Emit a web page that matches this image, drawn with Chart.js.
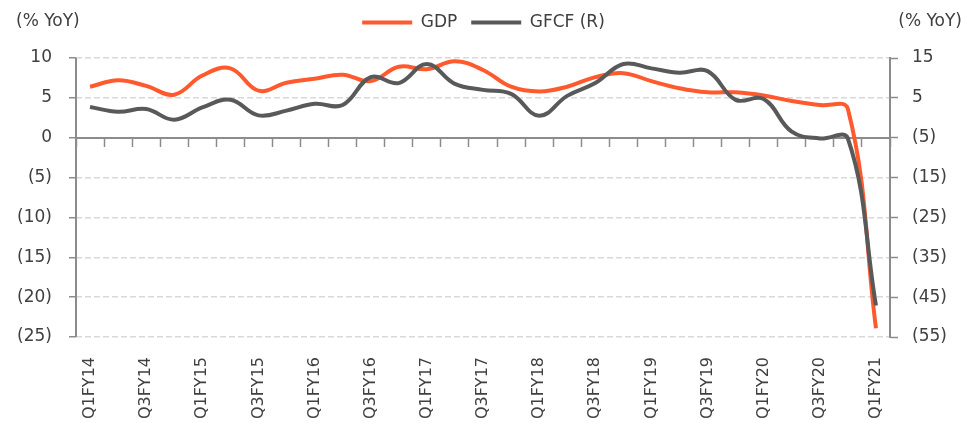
<!DOCTYPE html>
<html>
<head>
<meta charset="utf-8">
<script src="https://cdn.jsdelivr.net/npm/chart.js@4.4.0/dist/chart.umd.min.js"></script>
<style>
  html, body { margin: 0; padding: 0; background: #fff; }
  #wrap { width: 967px; height: 430px; position: relative; }
</style>
</head>
<body>
<div id="wrap"><canvas id="gdpChart"></canvas></div>
<script>
// values (% YoY)
const quarters = [
    'Q1FY14', 'Q2FY14', 'Q3FY14', 'Q4FY14',
    'Q1FY15', 'Q2FY15', 'Q3FY15', 'Q4FY15',
    'Q1FY16', 'Q2FY16', 'Q3FY16', 'Q4FY16',
    'Q1FY17', 'Q2FY17', 'Q3FY17', 'Q4FY17',
    'Q1FY18', 'Q2FY18', 'Q3FY18', 'Q4FY18',
    'Q1FY19', 'Q2FY19', 'Q3FY19', 'Q4FY19',
    'Q1FY20', 'Q2FY20', 'Q3FY20', 'Q4FY20',
    'Q1FY21'
];
const gdp = [
    6.4, 7.2, 6.5, 5.4,
    7.8, 8.7, 5.9, 6.9,
    7.4, 7.9, 7.1, 8.9,
    8.6, 9.6, 8.5, 6.4,
    5.8, 6.4, 7.6, 8.1,
    7.1, 6.2, 5.7, 5.7,
    5.3, 4.6, 4.1, 3.6,
    -23.9
];
const gfcf = [
    2.7, 1.5, 2.2, -0.5,
    2.6, 4.5, 0.6, 1.8,
    3.5, 3.2, 10.2, 8.7,
    13.5, 8.5, 7.0, 6.0,
    0.5, 5.5, 8.7, 13.5,
    12.4, 11.3, 11.7, 4.5,
    4.7, -3.5, -5.2, -5.2,
    -47.1
];
const leftRange = { min: -25, max: 10, step: 5 };
const rightRange = { min: -55, max: 15, step: 10 };
const unitLabel = '(% YoY)';

const textColor = '#404040';
const axisColor = '#8c8c8c';
const gridColor = '#d9d9d9';
const fontFamily = '"DejaVu Sans", sans-serif';

// negatives shown in brackets
function bracket(v) {
    return v < 0 ? '(' + (-v) + ')' : String(v);
}

// fixed room for the legend row
const legendSpace = {
    id: 'legendSpace',
    beforeInit(chart) {
        const fit = chart.legend.fit;
        chart.legend.fit = function () {
            fit.call(this);
            this.height = 58;
        };
    }
};

// left axis line stays solid while the grid is dashed
const leftAxisLine = {
    id: 'leftAxisLine',
    beforeDatasetsDraw(chart) {
        const { ctx, chartArea } = chart;
        ctx.save();
        ctx.strokeStyle = axisColor;
        ctx.lineWidth = 2;
        ctx.beginPath();
        ctx.moveTo(chartArea.left, chartArea.top);
        ctx.lineTo(chartArea.left, chartArea.bottom);
        ctx.stroke();
        ctx.restore();
    }
};

// "(% YoY)" over both axes
const unitTitles = {
    id: 'unitTitles',
    afterDraw(chart) {
        const ctx = chart.ctx;
        ctx.save();
        ctx.font = '17px ' + fontFamily;
        ctx.fillStyle = textColor;
        ctx.textBaseline = 'middle';
        ctx.textAlign = 'left';
        ctx.fillText(unitLabel, 16, 22);
        ctx.textAlign = 'right';
        ctx.fillText(unitLabel, 962, 22);
        ctx.restore();
    }
};

const ctx = document.getElementById('gdpChart').getContext('2d');
const chart = new Chart(ctx, {
    type: 'line',
    data: {
        labels: quarters,
        datasets: [{
            label: 'GDP',
            data: gdp,
            yAxisID: 'y',
            borderColor: '#ff5a2d',
            backgroundColor: '#ff5a2d',
            borderWidth: 4,
            pointRadius: 0,
            tension: 0.4,
            order: 1
        }, {
            label: 'GFCF (R)',
            data: gfcf,
            yAxisID: 'y1',
            borderColor: '#595959',
            backgroundColor: '#595959',
            borderWidth: 4,
            pointRadius: 0,
            tension: 0.4,
            order: 0
        }]
    },
    options: {
        responsive: true,
        maintainAspectRatio: false,
        animation: false,
        layout: { padding: 0 },
        plugins: {
            tooltip: { enabled: false },
            legend: {
                position: 'top',
                labels: {
                    color: textColor,
                    font: { family: fontFamily, size: 17 },
                    boxWidth: 50,
                    boxHeight: 4,
                    padding: 14,
                    sort: (a, b) => a.datasetIndex - b.datasetIndex,
                    generateLabels(c) {
                        return Chart.defaults.plugins.legend.labels.generateLabels(c)
                            .map(l => Object.assign(l, { lineWidth: 0 }));
                    }
                }
            }
        },
        scales: {
            x: {
                type: 'category',
                position: 'bottom',
                offset: true,
                grid: { display: false, offset: true },
                border: { display: false },
                ticks: {
                    autoSkip: false,
                    minRotation: 90,
                    maxRotation: 90,
                    padding: 12,
                    color: textColor,
                    font: { family: fontFamily, size: 16 },
                    callback: (v, i) => (i % 2 === 0 ? quarters[i] : '')
                },
                afterFit(scale) { scale.height = 93; }
            },
            x0: {
                type: 'category',
                axis: 'x',
                position: { y: 0 },
                offset: true,
                grid: {
                    offset: true,
                    drawOnChartArea: false,
                    drawTicks: true,
                    tickLength: 8,
                    tickColor: axisColor,
                    tickWidth: 1.5
                },
                border: { display: true, color: axisColor, width: 2 },
                ticks: { display: false, autoSkip: false }
            },
            y: {
                position: 'left',
                min: leftRange.min,
                max: leftRange.max,
                grid: {
                    color: gridColor,
                    lineWidth: 1.5,
                    tickColor: axisColor,
                    tickLength: 7,
                    tickWidth: 1.5
                },
                border: { display: false, dash: [6, 3] },
                ticks: {
                    stepSize: leftRange.step,
                    padding: 17,
                    color: textColor,
                    font: { family: fontFamily, size: 17 },
                    callback: bracket
                },
                afterFit(scale) { scale.width = 76; }
            },
            y1: {
                position: 'right',
                min: rightRange.min,
                max: rightRange.max,
                grid: {
                    drawOnChartArea: false,
                    tickColor: axisColor,
                    tickLength: 8,
                    tickWidth: 1.5
                },
                border: { display: true, color: axisColor, width: 2 },
                ticks: {
                    stepSize: rightRange.step,
                    padding: 14,
                    color: textColor,
                    font: { family: fontFamily, size: 17 },
                    callback: bracket
                },
                afterFit(scale) { scale.width = 77; }
            }
        }
    },
    plugins: [legendSpace, leftAxisLine, unitTitles]
});
</script>
</body>
</html>
